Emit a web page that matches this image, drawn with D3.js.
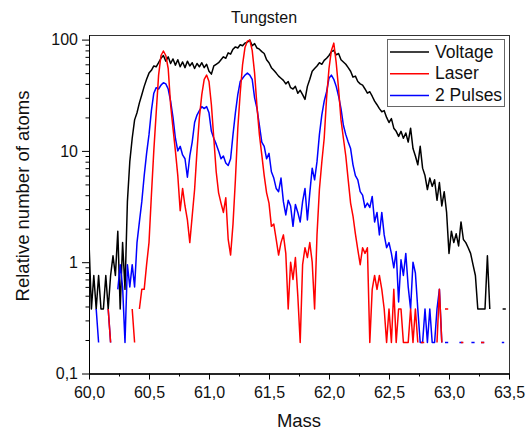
<!DOCTYPE html>
<html><head><meta charset="utf-8">
<script src="https://cdn.jsdelivr.net/npm/d3@7"></script>
<style>html,body{margin:0;padding:0;background:#fff;} svg{display:block;font-family:"Liberation Sans",Arial,sans-serif;}</style>
</head><body><svg id="c" width="528" height="432"></svg>
<script>
const mass = [
60.00,60.02,60.04,60.06,60.08,60.10,60.12,60.14,60.16,60.18,
60.20,60.22,60.24,60.26,60.28,60.30,60.32,60.34,60.36,60.38,
60.40,60.42,60.44,60.46,60.48,60.50,60.52,60.54,60.56,60.58,
60.60,60.62,60.64,60.66,60.68,60.70,60.72,60.74,60.76,60.78,
60.80,60.82,60.84,60.86,60.88,60.90,60.92,60.94,60.96,60.98,
61.00,61.02,61.04,61.06,61.08,61.10,61.12,61.14,61.16,61.18,
61.20,61.22,61.24,61.26,61.28,61.30,61.32,61.34,61.36,61.38,
61.40,61.42,61.44,61.46,61.48,61.50,61.52,61.54,61.56,61.58,
61.60,61.62,61.64,61.66,61.68,61.70,61.72,61.74,61.76,61.78,
61.80,61.82,61.84,61.86,61.88,61.90,61.92,61.94,61.96,61.98,
62.00,62.02,62.04,62.06,62.08,62.10,62.12,62.14,62.16,62.18,
62.20,62.22,62.24,62.26,62.28,62.30,62.32,62.34,62.36,62.38,
62.40,62.42,62.44,62.46,62.48,62.50,62.52,62.54,62.56,62.58,
62.60,62.62,62.64,62.66,62.68,62.70,62.72,62.74,62.76,62.78,
62.80,62.82,62.84,62.86,62.88,62.90,62.92,62.94,62.96,62.98,
63.00,63.02,63.04,63.06,63.08,63.10,63.12,63.14,63.16,63.18,
63.20,63.22,63.24,63.26,63.28,63.30,63.32,63.34,63.36,63.38,
63.40,63.42,63.44,63.46,63.48,63.50];

const voltage = [
1.52,0.38,0.76,0.38,0.76,0.38,0.38,0.76,0.38,0.76,
1.14,0.76,1.9,0.38,1.5,0.57,3.5,8,13,19,
22,27,32,38,44,50,53,58,57,62,
68,72,64,70,61,67,59,66,57,63,
56,64,58,62,55,61,57,62,56,60,
52,49,58,60,62,66,70,68,76,74,
82,86,84,90,88,93,95,99,88,92,
84,82,78,75,66,62,56,53,50,47,
45,43,40,42,37,36,38,33,35,32,
29,38,44,52,55,58,62,60,65,68,
72,78,80,73,75,66,63,60,56,52,
46,47,42,40,39,36,33,34,31,28,
26,24,22.5,23,20,18,19.5,16,15,13.5,
15,13,14.5,12,16,10.5,9,7.5,11,7,
6,4.5,5.7,4.8,5.5,3.6,5.2,3.2,4.3,2.8,
1.2,1.9,1.5,1.8,1.4,2.3,1.6,1.5,1.35,1.2,
0.95,0.76,0.38,0.38,0.38,0.38,1.14,0.38,0,0,
0,0,0,0.38,0,0];

const laser = [
0,0,0,0,0,0,0,0,0.38,0.19,
0,0,0,0,0,0,0,0,0.38,0.19,
0,0.38,0.57,0.57,0.95,1.5,4,10,22,48,
72,79,72,55,26,16,10,6,2.9,4.6,
3.2,2.4,1.5,2.6,4.5,10,20,32,44,48,
42,26,13,6.5,4.2,3.4,2.8,3.8,1.6,1.16,
2.2,5.5,16,33,60,85,97,99,80,50,
25,14,9.2,6,4.2,3.4,2.1,2.2,1.6,1.16,
1.5,1.76,1.2,0.38,1.0,0.7,1.1,0.5,0.19,0.95,
1.35,1.1,1.5,1.0,0.38,1.76,4.5,7.9,13,30,
55,80,93,62,36,19,13,9,5.5,3.4,
2.6,1.8,1.3,0.95,1.35,1.2,1.35,0.19,0.57,0.76,
0.57,0.76,0.57,0.38,0.19,0.38,0.19,0.57,0.19,0.38,
0.38,0.19,0.19,0.19,0.38,0.19,0.38,0.19,0,0.19,
0,0,0,0,0,0.19,0.57,0.19,0,0.38,
0,0,0,0,0,0.19,0.19,0,0,0,
0,0,0,0,0.19,0,0,0,0,0,
0,0,0,0,0,0];

const pulses = [
0,0,0,0.38,0.19,0,0,0,0.38,0.19,
0,0,0.57,0.95,0.6,0.19,0.95,0.6,0.95,0.6,
1.5,2.3,3.5,6,9.5,14,23,33,37,36,
39,41,40,36,28,20,13,10,11,9.2,
8.5,5.8,9,12,18,21,23,25,24,25,
22,15,13,11.5,10,8.5,9,7.8,7.4,8.5,
14,22,32,42,45,48,50,48,44,30,
24,17,12,11,8.5,9.5,6.5,5.7,4.6,4.3,
5.7,3.5,2.66,3.6,3.2,2.1,3.3,2.8,2.3,3.5,
4.6,2.4,4.2,7,5.5,8,14,21,28,34,
45,48,44,38,31,24,17,14,12,10.5,
7.5,6,5.5,4.3,4,3.1,3.4,3.1,3.9,2.3,
2.8,1.76,2.8,1.76,1.35,1.5,1.2,0.89,1.25,0.44,
1.05,0.76,1.2,0.6,0.38,1.0,0.8,0.38,0.19,0.19,
0.38,0.19,0.38,0.19,0.19,0.38,0.57,0.19,0,0.19,
0,0,0,0,0,0.19,0,0,0,0,
0.19,0,0,0,0.19,0,0,0,0,0,
0,0,0.19,0.19,0,0];

const seriesNames = ["Voltage", "Laser", "2 Pulses"];
const seriesColors = ["#000000", "#ff0000", "#0000ff"];
const seriesData = [voltage, laser, pulses];
const drawOrder = [0, 2, 1];

const xTickValues = [60.0, 60.5, 61.0, 61.5, 62.0, 62.5, 63.0, 63.5];
const xTickLabels = ["60,0", "60,5", "61,0", "61,5", "62,0", "62,5", "63,0", "63,5"];
const xMinorValues = [60.25, 60.75, 61.25, 61.75, 62.25, 62.75, 63.25];
const yTickValues = [0.1, 1, 10, 100];
const yTickLabels = ["0,1", "1", "10", "100"];
const yMinorValues = [0.2,0.3,0.4,0.5,0.6,0.7,0.8,0.9,2,3,4,5,6,7,8,9,20,30,40,50,60,70,80,90];
const titleText = "Tungsten";
const xLabelText = "Mass";
const yLabelText = "Relative number of atoms";

const svg = d3.select("#c");
const L = 89, R = 509, T = 35, B = 373.5;
const x = d3.scaleLinear().domain([60, 63.5]).range([L, R]);
const y = d3.scaleLog().domain([0.1, 110]).range([B, T]);

svg.append("defs").append("clipPath").attr("id", "clip")
  .append("rect").attr("x", L).attr("y", T).attr("width", R - L).attr("height", B - T);

const plot = svg.append("g").attr("clip-path", "url(#clip)");
drawOrder.forEach(si => {
  const vals = seriesData[si];
  const pts = mass.map((m, i) => ({m, v: vals[i], i}));
  const line = d3.line().defined(d => d.v > 0).x(d => x(d.m)).y(d => y(d.v));
  plot.append("path").datum(pts).attr("d", line)
    .attr("fill", "none").attr("stroke", seriesColors[si])
    .attr("stroke-width", 1.5).attr("stroke-linejoin", "round");
  const iso = pts.filter(d => d.v > 0 && !(vals[d.i - 1] > 0) && !(vals[d.i + 1] > 0));
  plot.selectAll(null).data(iso).enter().append("line")
    .attr("x1", d => x(d.m) - 1.6).attr("x2", d => x(d.m) + 1.6)
    .attr("y1", d => y(d.v)).attr("y2", d => y(d.v))
    .attr("stroke", seriesColors[si]).attr("stroke-width", 1.5);
});

// frame
svg.append("rect").attr("x", L + 0.5).attr("y", T + 0.5).attr("width", R - L).attr("height", B - T)
  .attr("fill", "none").attr("stroke", "#333").attr("stroke-width", 1);

const fs = 16;
const xAxis = svg.append("g").attr("transform", `translate(0,${B})`)
  .call(d3.axisBottom(x).tickValues(xTickValues).tickFormat((d, i) => xTickLabels[i])
    .tickSize(6).tickSizeOuter(0).tickPadding(7));
svg.append("g").attr("transform", `translate(0,${B})`)
  .call(d3.axisBottom(x).tickValues(xMinorValues).tickFormat("").tickSize(3).tickSizeOuter(0));
const yAxis = svg.append("g").attr("transform", `translate(${L},0)`)
  .call(d3.axisLeft(y).tickValues(yTickValues).tickFormat((d, i) => yTickLabels[i])
    .tickSize(7).tickSizeOuter(0).tickPadding(4));
svg.append("g").attr("transform", `translate(${L},0)`)
  .call(d3.axisLeft(y).tickValues(yMinorValues).tickFormat("").tickSize(3.5).tickSizeOuter(0));
svg.selectAll(".tick text").attr("font-size", fs).attr("fill", "#111")
  .attr("font-family", '"Liberation Sans",Arial,sans-serif');
svg.selectAll(".domain").attr("stroke", "#000");

svg.append("text").attr("x", 264).attr("y", 23).attr("text-anchor", "middle")
  .attr("font-size", 16).attr("fill", "#111").text(titleText);
svg.append("text").attr("x", 299).attr("y", 427).attr("text-anchor", "middle")
  .attr("font-size", 18.5).attr("fill", "#111").text(xLabelText);
svg.append("text").attr("transform", "translate(29,196) rotate(-90)").attr("text-anchor", "middle")
  .attr("font-size", 18.5).attr("fill", "#111").text(yLabelText);

// legend
const lg = svg.append("g");
lg.append("rect").attr("x", 387.5).attr("y", 39.5).attr("width", 117).attr("height", 67)
  .attr("fill", "#fff").attr("stroke", "#666").attr("stroke-width", 1);
seriesNames.forEach((n, i) => {
  const yy = 52 + i * 21.7;
  lg.append("line").attr("x1", 390).attr("x2", 429).attr("y1", yy).attr("y2", yy)
    .attr("stroke", seriesColors[i]).attr("stroke-width", 1.5);
  lg.append("text").attr("x", 435).attr("y", yy + 5.6).attr("font-size", 17.5)
    .attr("fill", "#111").text(n);
});
</script></body></html>
